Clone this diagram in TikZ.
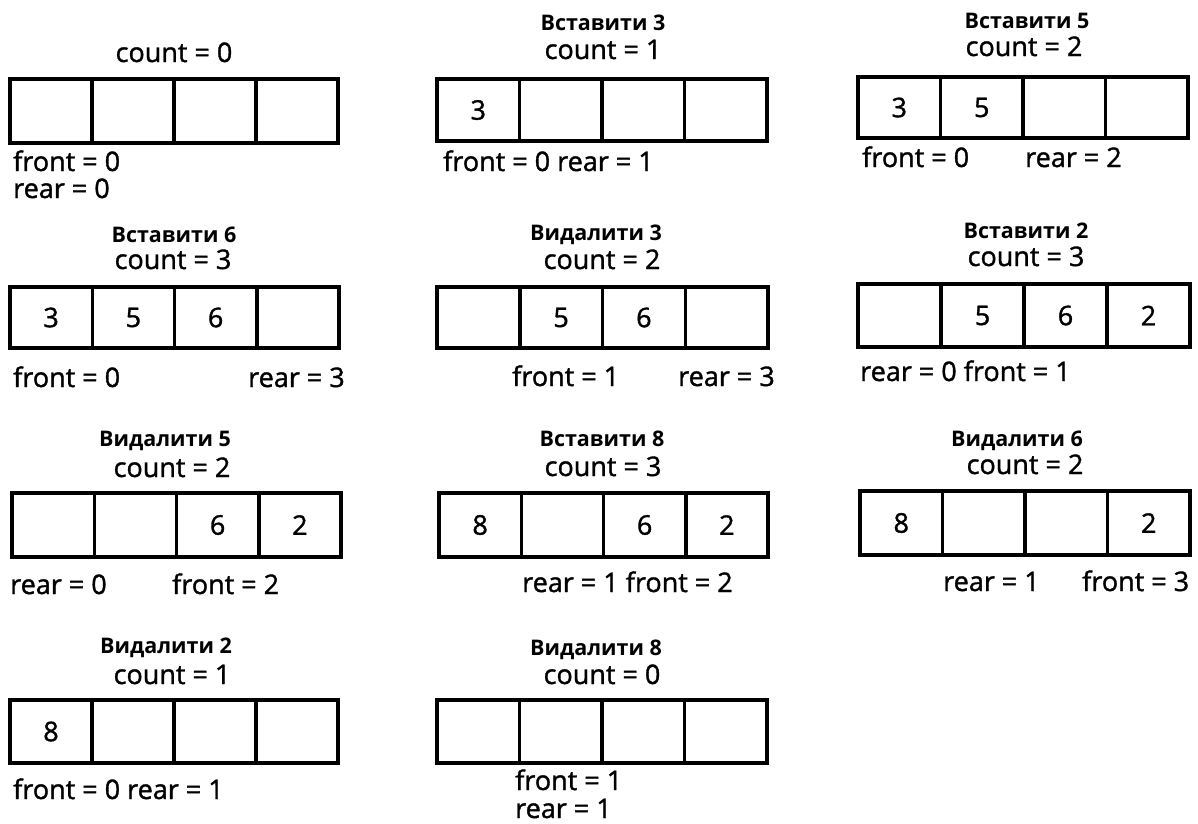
\documentclass[tikz,border=0pt]{standalone}
\usepackage{fontspec}
\setmainfont{Open Sans}
\newfontfamily\bodyfont{Open Sans}[FakeBold=1.3]
\begin{document}
\begin{tikzpicture}[x=1pt,y=1pt,
  cellbox/.style={draw, line width=3.5pt, inner sep=0pt, outer sep=0pt, font=\fontsize{27}{30}\selectfont\bodyfont},
  body/.style={inner sep=0pt, text height=18pt, text depth=0pt, font=\fontsize{27}{30}\selectfont\bodyfont},
  ttl/.style={inner sep=0pt, text height=15pt, text depth=0pt, font=\fontsize{21.5}{26}\selectfont\bfseries}]
\useasboundingbox (0,0) rectangle (1198,-823);
\newcommand{\qrow}[9]{%
  \pgfmathsetmacro\cw{(#4-#2)/4}%
  \pgfmathsetmacro\ch{#5-#3}%
  \node[cellbox, minimum width=\cw pt, minimum height=\ch pt, anchor=north west] (#1-1) at (#2,-#3) {#6};
  \node[cellbox, minimum width=\cw pt, minimum height=\ch pt, anchor=west] (#1-2) at (#1-1.east) {#7};
  \node[cellbox, minimum width=\cw pt, minimum height=\ch pt, anchor=west] (#1-3) at (#1-2.east) {#8};
  \node[cellbox, minimum width=\cw pt, minimum height=\ch pt, anchor=west] (#1-4) at (#1-3.east) {#9};
}
% Panel 1
\qrow{q1}{10}{79}{338}{143}{}{}{}{}
\node[body, anchor=base] (c1) at (174,-62) {count = 0};
\node[body, anchor=base west] (f1) at (13,-171) {front = 0};
\node[body, anchor=base west] (r1) at (13,-198) {rear = 0};
% Panel 2
\qrow{q2}{437}{79}{767}{141}{3}{}{}{}
\node[ttl, anchor=base] (t2) at (603,-30) {Вставити 3};
\node[body, anchor=base] (c2) at (603,-59) {count = 1};
\node[body, anchor=base west] (f2) at (443,-171) {front = 0 rear = 1};
% Panel 3
\qrow{q3}{858}{77}{1188}{138}{3}{5}{}{}
\node[ttl, anchor=base] (t3) at (1027,-28) {Вставити 5};
\node[body, anchor=base] (c3) at (1024,-56) {count = 2};
\node[body, anchor=base west] (f3) at (862,-167) {front = 0};
\node[body, anchor=base west] (r3) at (1025,-167) {rear = 2};
% Panel 4
\qrow{q4}{10}{287}{339}{348}{3}{5}{6}{}
\node[ttl, anchor=base] (t4) at (174,-242) {Вставити 6};
\node[body, anchor=base] (c4) at (173,-269) {count = 3};
\node[body, anchor=base west] (f4) at (13,-387) {front = 0};
\node[body, anchor=base west] (r4) at (248,-387) {rear = 3};
% Panel 5
\qrow{q5}{437}{287}{768}{348}{}{5}{6}{}
\node[ttl, anchor=base] (t5) at (596,-240) {Видалити 3};
\node[body, anchor=base] (c5) at (602,-269) {count = 2};
\node[body, anchor=base west] (f5) at (512,-386) {front = 1};
\node[body, anchor=base west] (r5) at (678,-386) {rear = 3};
% Panel 6
\qrow{q6}{858}{284}{1190}{347}{}{5}{6}{2}
\node[ttl, anchor=base] (t6) at (1026,-238) {Вставити 2};
\node[body, anchor=base] (c6) at (1026,-266) {count = 3};
\node[body, anchor=base west] (f6) at (860,-381) {rear = 0 front = 1};
% Panel 7
\qrow{q7}{12}{493}{341}{557}{}{}{6}{2}
\node[ttl, anchor=base] (t7) at (165,-446) {Видалити 5};
\node[body, anchor=base] (c7) at (172,-477) {count = 2};
\node[body, anchor=base west] (r7) at (10,-594) {rear = 0};
\node[body, anchor=base west] (f7) at (172,-594) {front = 2};
% Panel 8
\qrow{q8}{439}{493}{768}{557}{8}{}{6}{2}
\node[ttl, anchor=base] (t8) at (602,-446) {Вставити 8};
\node[body, anchor=base] (c8) at (603,-476) {count = 3};
\node[body, anchor=base west] (f8) at (522,-592) {rear = 1 front = 2};
% Panel 9
\qrow{q9}{860}{491}{1190}{555}{8}{}{}{2}
\node[ttl, anchor=base] (t9) at (1017,-446) {Видалити 6};
\node[body, anchor=base] (c9) at (1025,-474) {count = 2};
\node[body, anchor=base west] (r9) at (943,-591) {rear = 1};
\node[body, anchor=base west] (f9) at (1082,-591) {front = 3};
% Panel 10
\qrow{q10}{10}{700}{338}{763}{8}{}{}{}
\node[ttl, anchor=base] (t10) at (166,-653) {Видалити 2};
\node[body, anchor=base] (c10) at (172,-684) {count = 1};
\node[body, anchor=base west] (f10) at (13,-799) {front = 0 rear = 1};
% Panel 11
\qrow{q11}{437}{700}{767}{763}{}{}{}{}
\node[ttl, anchor=base] (t11) at (596,-655) {Видалити 8};
\node[body, anchor=base] (c11) at (602,-684) {count = 0};
\node[body, anchor=base west] (f11) at (515,-790) {front = 1};
\node[body, anchor=base west] (r11) at (515,-818) {rear = 1};
\end{tikzpicture}
\end{document}
